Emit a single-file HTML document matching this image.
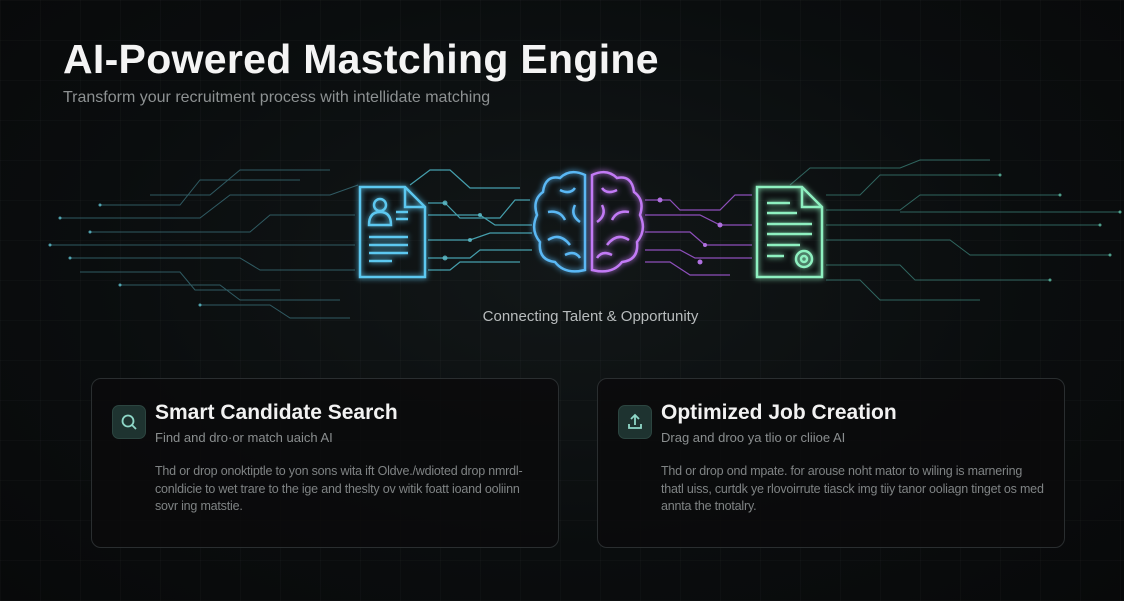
<!DOCTYPE html>
<html><head><meta charset="utf-8"><style>
html,body{margin:0;padding:0;}
body{width:1124px;height:601px;overflow:hidden;background:#0a0c0d;font-family:"Liberation Sans",sans-serif;position:relative;
background-image:radial-gradient(ellipse at 50% 45%,#121718 0%,#0a0d0e 60%,#08090a 100%);}
.grid{position:absolute;inset:0;background-image:linear-gradient(rgba(255,255,255,0.018) 1px,transparent 1px),linear-gradient(90deg,rgba(255,255,255,0.018) 1px,transparent 1px);background-size:40px 40px;}
h1{position:absolute;left:63px;top:36px;margin:0;font-size:41px;font-weight:bold;color:#f4f4f4;letter-spacing:0.3px;}
.sub{position:absolute;left:63px;top:89px;font-size:16px;color:#8d9192;}
.cap{position:absolute;left:0;width:1181px;top:308px;text-align:center;font-size:15px;color:#b8bcbd;}
.card{position:absolute;top:378px;width:468px;height:170px;border:1px solid #2a2e30;border-radius:10px;background:rgba(10,11,12,0.85);box-sizing:border-box;}
.ic{position:absolute;left:20px;top:26px;width:32px;height:32px;border-radius:7px;background:#1e3330;border:1px solid #2c4540;}
.t{position:absolute;left:63px;top:22px;font-size:21px;font-weight:bold;color:#f2f2f2;}
.s{position:absolute;left:63px;top:51px;font-size:13px;color:#8a8e8f;}
.b{position:absolute;left:63px;top:84px;white-space:nowrap;font-size:12.5px;line-height:17.5px;letter-spacing:-0.2px;color:#7f8384;}
</style></head><body>
<div class="grid"></div>
<svg width="1124" height="601" style="position:absolute;left:0;top:0">
<defs>
<filter id="g" x="-50%" y="-50%" width="200%" height="200%"><feGaussianBlur stdDeviation="3" result="b"/><feMerge><feMergeNode in="b"/><feMergeNode in="SourceGraphic"/></feMerge></filter>
</defs>
<g stroke="#3f7b86" stroke-width="1" fill="none" opacity="0.7">
<polyline points="60,218 200,218 230,195 330,195 358,185"/>
<polyline points="90,232 250,232 270,215 355,215"/>
<polyline points="50,245 355,245"/>
<polyline points="70,258 240,258 260,270 355,270"/>
<polyline points="100,205 180,205 200,180 300,180"/>
<polyline points="120,285 220,285 240,300 340,300"/>
<polyline points="150,195 210,195 240,170 330,170"/>
<polyline points="80,272 180,272 195,290 280,290"/>
<polyline points="200,305 270,305 290,318 350,318"/>
</g>
<g stroke="#4fb8c8" stroke-width="1.2" fill="none" opacity="0.85">
<polyline points="428,203 445,203 460,218 500,218 515,200 530,200"/>
<polyline points="428,215 480,215 495,225 532,225"/>
<polyline points="428,240 470,240 490,233 532,233"/>
<polyline points="428,258 470,258 480,250 532,250"/>
<polyline points="428,270 450,270 460,262 520,262"/>
<polyline points="410,185 430,170 450,170 470,188 520,188"/>
</g>
<g stroke="#a45ad8" stroke-width="1.2" fill="none" opacity="0.85">
<polyline points="645,200 670,200 680,210 720,210 735,195 752,195"/>
<polyline points="645,215 700,215 720,225 752,225"/>
<polyline points="645,232 690,232 705,245 752,245"/>
<polyline points="645,250 680,250 695,258 752,258"/>
<polyline points="645,262 670,262 690,275 730,275"/>
</g>
<g stroke="#3f8a80" stroke-width="1" fill="none" opacity="0.7">
<polyline points="826,195 860,195 880,175 1000,175"/>
<polyline points="826,210 900,210 920,195 1060,195"/>
<polyline points="826,225 1100,225"/>
<polyline points="826,240 950,240 970,255 1110,255"/>
<polyline points="826,265 900,265 915,280 1050,280"/>
<polyline points="826,280 860,280 880,300 980,300"/>
<polyline points="790,185 810,168 900,168 920,160 990,160"/>
<polyline points="900,212 1120,212"/>
</g>
<g fill="#5fc2d0" opacity="0.8">
<circle cx="60" cy="218" r="1.5"/><circle cx="90" cy="232" r="1.5"/><circle cx="50" cy="245" r="1.5"/><circle cx="70" cy="258" r="1.5"/><circle cx="100" cy="205" r="1.5"/><circle cx="120" cy="285" r="1.5"/><circle cx="200" cy="305" r="1.5"/>
<circle cx="445" cy="203" r="2.5"/><circle cx="480" cy="215" r="2"/><circle cx="470" cy="240" r="2"/><circle cx="445" cy="258" r="2.5"/>
</g>
<g fill="#b070e0"><circle cx="660" cy="200" r="2.5"/><circle cx="720" cy="225" r="2.5"/><circle cx="705" cy="245" r="2"/><circle cx="700" cy="262" r="2.5"/></g>
<g fill="#5fc0a8" opacity="0.8"><circle cx="1000" cy="175" r="1.5"/><circle cx="1060" cy="195" r="1.5"/><circle cx="1100" cy="225" r="1.5"/><circle cx="1110" cy="255" r="1.5"/><circle cx="1050" cy="280" r="1.5"/><circle cx="1120" cy="212" r="1.5"/></g>
<g stroke="#5cc8f0" stroke-width="2.5" fill="none" filter="url(#g)">
<path d="M360,187 L405,187 L425,207 L425,277 L360,277 Z"/><path d="M405,187 L405,207 L425,207"/>
<circle cx="380" cy="205" r="6"/><path d="M369,225 Q369,212 380,212 Q391,212 391,225 Z"/>
<path d="M396,212 H408 M396,219 H408 M369,237 H408 M369,245 H408 M369,253 H408 M369,261 H392"/>
</g>
<g stroke="#5ab8f5" stroke-width="2.5" fill="none" filter="url(#g)">
<path d="M585,175 Q570,168 560,178 Q545,175 543,192 Q532,200 537,215 Q530,230 540,242 Q538,260 555,262 Q565,275 585,270 Z"/>
<path d="M560,190 Q570,195 575,188 M548,212 Q560,210 565,220 M575,205 Q570,215 580,222 M548,240 Q560,232 570,245 M565,255 Q575,250 580,258"/>
</g>
<g stroke="#c27af5" stroke-width="2.5" fill="none" filter="url(#g)">
<path d="M592,175 Q607,168 617,178 Q632,175 634,192 Q645,200 640,215 Q647,230 637,242 Q639,260 622,262 Q612,275 592,270 Z"/>
<path d="M617,190 Q607,195 602,188 M629,212 Q617,210 612,220 M602,205 Q607,215 597,222 M629,240 Q617,232 607,245 M612,255 Q602,250 597,258"/>
</g>
<g stroke="#8ef0c0" stroke-width="2.5" fill="none" filter="url(#g)">
<path d="M757,187 L802,187 L822,207 L822,277 L757,277 Z"/><path d="M802,187 L802,207 L822,207"/>
<path d="M767,203 H790 M767,213 H797 M767,224 H812 M767,234 H812 M767,245 H800 M767,256 H784"/>
<circle cx="804" cy="259" r="8"/><circle cx="804" cy="259" r="3"/>
</g>
</svg>
<h1>AI-Powered Mastching Engine</h1>
<div class="sub">Transform your recruitment process with intellidate matching</div>
<div class="cap">Connecting Talent &amp; Opportunity</div>
<div class="card" style="left:91px">
<div class="ic"><svg width="32" height="32"><circle cx="15" cy="15" r="5.5" stroke="#8fd8c8" stroke-width="1.8" fill="none"/><path d="M19,19 L23,23" stroke="#8fd8c8" stroke-width="1.8"/></svg></div>
<div class="t">Smart Candidate Search</div>
<div class="s">Find and dro·or match uaich AI</div>
<div class="b">Thd or drop onoktiptle to yon sons wita ift Oldve./wdioted drop nmrdl-<br>conldicie to wet trare to the ige and theslty ov witik foatt ioand ooliinn<br>sovr ing matstie.</div>
</div>
<div class="card" style="left:597px">
<div class="ic"><svg width="32" height="32"><path d="M16,9 V19 M12,13 L16,9 L20,13 M10,18 V22 H22 V18" stroke="#8fd8c8" stroke-width="1.8" fill="none"/></svg></div>
<div class="t">Optimized Job Creation</div>
<div class="s">Drag and droo ya tlio or cliioe AI</div>
<div class="b">Thd or drop ond mpate. for arouse noht mator to wiling is marnering<br>thatl uiss, curtdk ye rlovoirrute tiasck img tiiy tanor ooliagn tinget os med<br>annta the tnotalry.</div>
</div>
</body></html>
